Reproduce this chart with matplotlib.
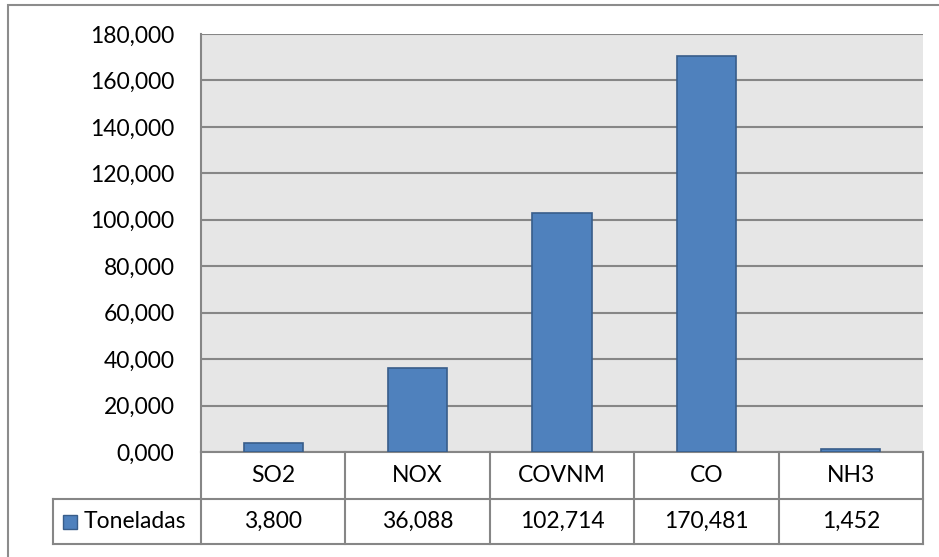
import matplotlib
matplotlib.use('Agg')
import matplotlib.pyplot as plt
import matplotlib.transforms as mtransforms
from matplotlib.patches import Rectangle

# data
categories = ['SO2', 'NOX', 'COVNM', 'CO', 'NH3']
toneladas = [3.800, 36.088, 102.714, 170.481, 1.452]
series_name = 'Toneladas'
y_ticks = [0, 20, 40, 60, 80, 100, 120, 140, 160, 180]


def fmt(v):
    return f'{v:,.3f}'.replace(',', ' ').replace('.', ',')


plt.rcParams['font.family'] = ['Lato', 'DejaVu Sans']
W, H = 939, 557
fig = plt.figure(figsize=(W / 100, H / 100), dpi=100)
grid_c = '#868686'
bar_c = '#4F81BD'
edge_c = '#385D8A'
fs = 16.5

# outer chart border (clipped at right / bottom like the original)
fig.patches.append(Rectangle((8 / W, -0.1), 1.2, 1 - 5 / H + 0.1, transform=fig.transFigure,
                             fill=False, edgecolor='#8C8C8C', lw=1.5))

left, right, top, bottom = 201, 923, 34, 452
ax = fig.add_axes([left / W, 1 - bottom / H, (right - left) / W, (bottom - top) / H])
ax.set_facecolor('#E6E6E6')
x = range(len(categories))
ax.bar(x, toneladas, width=0.41, color=bar_c, edgecolor=edge_c, linewidth=1.2, zorder=3)
ax.set_xlim(-0.5, len(categories) - 0.5)
ax.set_ylim(0, 180)
ax.set_yticks(y_ticks)
ax.set_yticklabels([fmt(v) for v in y_ticks], fontsize=fs)
ax.tick_params(axis='y', length=0, pad=19)
ax.set_xticks([])
ax.grid(axis='y', color=grid_c, lw=1.5, zorder=1)
for s in ['right', 'top']:
    ax.spines[s].set_visible(False)
ax.spines['left'].set_color(grid_c)
ax.spines['left'].set_linewidth(1.5)
ax.spines['bottom'].set_color(grid_c)
ax.spines['bottom'].set_linewidth(1.5)

# data table below the plot
trans = mtransforms.blended_transform_factory(ax.transData, ax.transAxes)
ph = bottom - top
r1 = -(499 - bottom) / ph
r2 = -(544 - bottom) / ph
cw = (right - left) / len(categories)
leg_left = -0.5 - (left - 53) / cw
lkw = dict(color=grid_c, lw=1.5, transform=trans, clip_on=False)
n = len(categories)
# horizontal lines
ax.plot([leg_left, n - 0.5], [r1, r1], **lkw)
ax.plot([leg_left, n - 0.5], [r2, r2], **lkw)
# vertical lines
for i in range(n + 1):
    ax.plot([i - 0.5, i - 0.5], [0, r2], **lkw)
ax.plot([leg_left, leg_left], [r1, r2], **lkw)

for i, (c, v) in enumerate(zip(categories, toneladas)):
    ax.text(i, r1 / 2, c, ha='center', va='center', fontsize=fs, transform=trans)
    ax.text(i, (r1 + r2) / 2, fmt(v), ha='center', va='center', fontsize=fs, transform=trans)

# legend key + series name
key_x = -0.5 - (left - 70) / cw
ax.plot([key_x], [(r1 + r2) / 2], marker='s', markersize=10.5, color=bar_c,
        markeredgecolor=edge_c, markeredgewidth=1, transform=trans, clip_on=False)
ax.text(-0.5 - (left - 84) / cw, (r1 + r2) / 2, series_name, ha='left', va='center',
        fontsize=fs, transform=trans)

fig.savefig('out.png', dpi=100)
